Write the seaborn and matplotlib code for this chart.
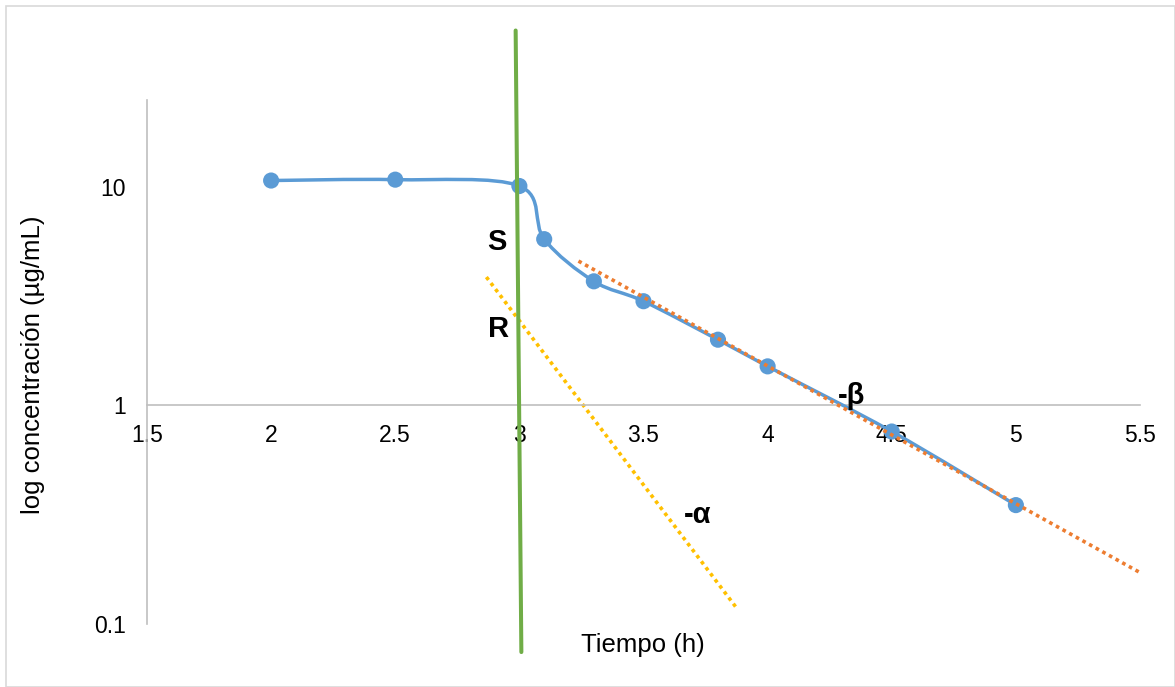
import numpy as np
import pandas as pd
import matplotlib
matplotlib.use("Agg")
import matplotlib.pyplot as plt
import seaborn as sns
from matplotlib.path import Path
from matplotlib.patches import PathPatch, Rectangle
from matplotlib.ticker import FixedLocator, FuncFormatter, NullLocator

# measured concentrations
tiempo = [2, 2.5, 3, 3.1, 3.3, 3.5, 3.8, 4, 4.5, 5]
concentracion = [10.7, 10.8, 10.1, 5.77, 3.7, 3.0, 2.0, 1.51, 0.76, 0.35]

# straight guide lines (start / end)
beta_x = [3.238, 5.516]
beta_y = [4.58, 0.168]
alfa_x = [2.867, 3.871]
alfa_y = [3.87, 0.12]
corte_x = [2.985, 3.008]
corte_y = [52, 0.0744]

x_ticks = [1.5, 2, 2.5, 3, 3.5, 4, 4.5, 5, 5.5]
y_ticks = [0.1, 1, 10]

blue = "#5B9BD5"
orange = "#ED7D31"
yellow = "#FFC000"
green = "#70AD47"
grid_gray = "#BFBFBF"

sns.set_theme(style="white")
plt.rcParams["font.family"] = ["Liberation Sans", "DejaVu Sans"]

fig = plt.figure(figsize=(11.75, 6.87), dpi=100)
ax = fig.add_axes([147 / 1175, 1 - 624 / 687, 993 / 1175, 524 / 687])
ax.set_yscale("log")

# smoothed line through the points (Excel style), bezier in (x, log y)
lx = np.array(tiempo, dtype=float)
ly = np.log10(concentracion)
pts = np.column_stack([lx, ly])
verts = [pts[0]]
codes = [Path.MOVETO]
n = len(pts)
for i in range(n - 1):
    p_prev = pts[i - 1] if i > 0 else pts[i]
    p_next2 = pts[i + 2] if i + 2 < n else pts[i + 1]
    c1 = pts[i] + (pts[i + 1] - p_prev) / 6
    c2 = pts[i + 1] - (p_next2 - pts[i]) / 6
    verts += [c1, c2, pts[i + 1]]
    codes += [Path.CURVE4] * 3
verts = np.array(verts)
verts[:, 1] = 10 ** verts[:, 1]
ax.add_patch(PathPatch(Path(verts, codes), facecolor="none", edgecolor=blue,
                       lw=2.5, transform=ax.transData, zorder=3))

df = pd.DataFrame({"t": tiempo, "c": concentracion})
sns.scatterplot(data=df, x="t", y="c", ax=ax, color=blue, s=135,
                edgecolor="none", zorder=4)

sns.lineplot(x=beta_x, y=beta_y, ax=ax, color=orange, lw=2.6,
             linestyle=(0, (1, 1.1)), zorder=5)
sns.lineplot(x=alfa_x, y=alfa_y, ax=ax, color=yellow, lw=2.6,
             linestyle=(0, (1, 1.1)), zorder=2)
sns.lineplot(x=corte_x, y=corte_y, ax=ax, color=green, lw=2.9,
             clip_on=False, zorder=6, sort=False)

ax.set_xlim(1.5, 5.5)
ax.set_ylim(0.1, 25)

ax.xaxis.set_major_locator(FixedLocator(x_ticks))
ax.xaxis.set_major_formatter(FuncFormatter(lambda v, p: f"{v:g}"))
ax.yaxis.set_major_locator(FixedLocator(y_ticks))
ax.yaxis.set_minor_locator(NullLocator())
ax.yaxis.set_major_formatter(FuncFormatter(lambda v, p: f"{v:g}"))
ax.tick_params(axis="x", length=0, pad=13, labelsize=16.5, colors="black")
ax.tick_params(axis="y", length=0, pad=15, labelsize=16.5, colors="black")

for side in ["top", "right"]:
    ax.spines[side].set_visible(False)
ax.spines["bottom"].set_position(("data", 1))
for side in ["bottom", "left"]:
    ax.spines[side].set_color(grid_gray)
    ax.spines[side].set_linewidth(1.2)
ax.grid(False)

ax.set_xlabel("Tiempo (h)", fontsize=18.5, color="black")
ax.xaxis.set_label_coords((643 - 147) / 993, (624 - 645) / 524)
ax.xaxis.label.set_verticalalignment("center")
ax.set_ylabel("log concentración (µg/mL)", fontsize=18.5, color="black")
ax.yaxis.set_label_coords((33 - 147) / 993, (624 - 365) / 524)
ax.yaxis.label.set_verticalalignment("center")

lbl = dict(fontsize=21, fontweight="bold", ha="center", va="center", color="black")
ax.text(2.911, 5.6, "S", **lbl)
ax.text(2.915, 2.23, "R", **lbl)
ax.text(4.339, 1.1, "-β", **lbl)
ax.text(3.718, 0.316, "-α", **lbl)

fig.patches.append(Rectangle((5.5 / 1175, 0.5 / 687), 1169 / 1175, 681 / 687,
                             transform=fig.transFigure, fill=False,
                             edgecolor="#D9D9D9", lw=1.2))

fig.savefig("out.png", dpi=100)
